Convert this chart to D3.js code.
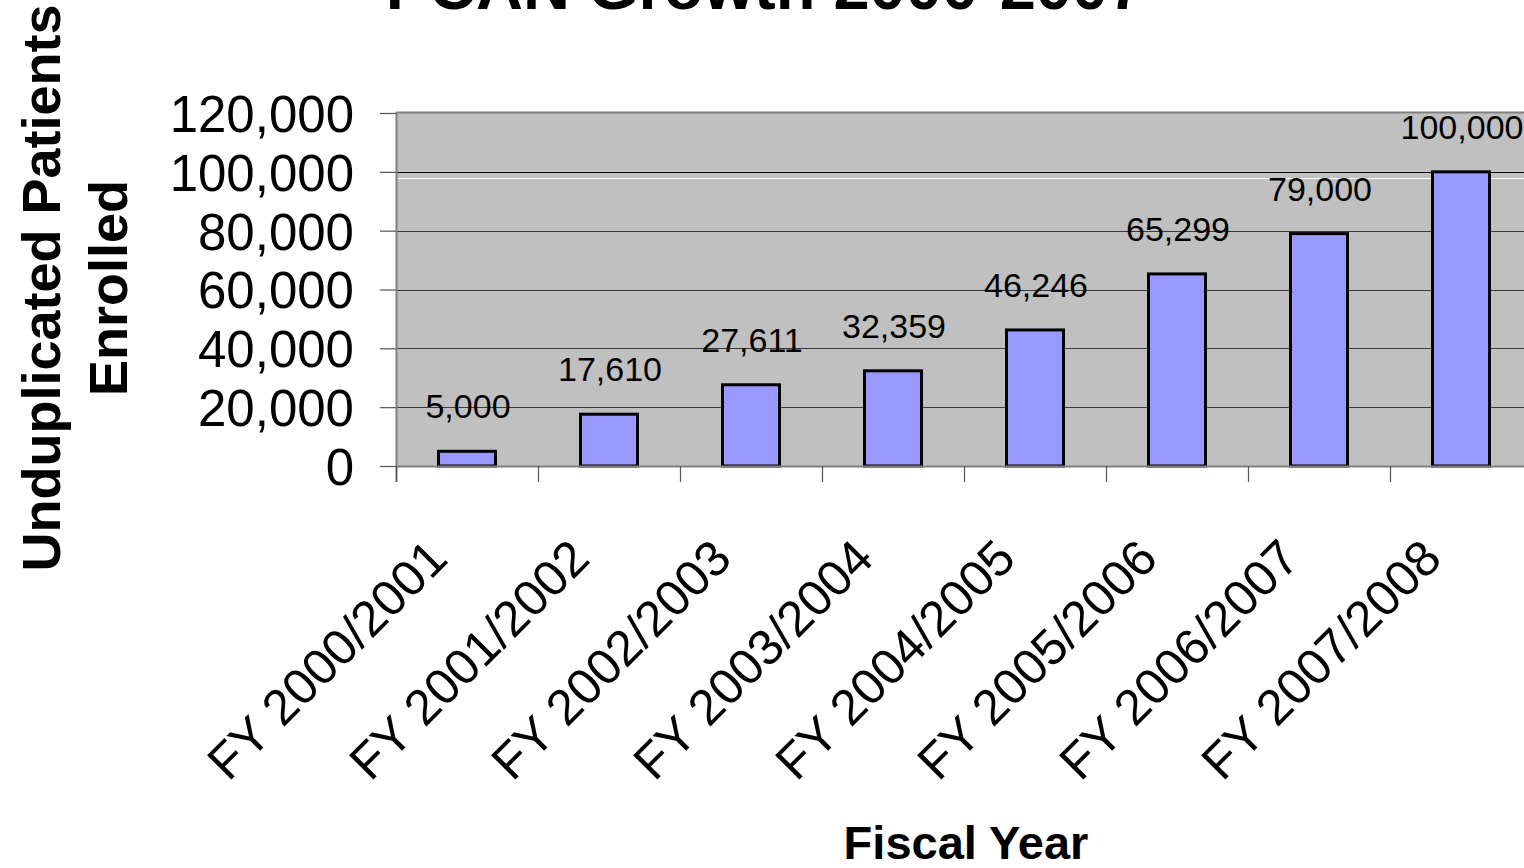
<!DOCTYPE html>
<html>
<head>
<meta charset="utf-8">
<script src="https://cdn.jsdelivr.net/npm/d3@7/dist/d3.min.js"></script>
<style>
  html, body { margin: 0; padding: 0; background: #fff; overflow: hidden; }
  svg { display: block; }
  text { font-family: "Liberation Sans", Arial, sans-serif; }
</style>
</head>
<body>
<svg id="chart" width="1524" height="868"></svg>
<script>
const categories = ["FY 2000/2001", "FY 2001/2002", "FY 2002/2003", "FY 2003/2004",
                    "FY 2004/2005", "FY 2005/2006", "FY 2006/2007", "FY 2007/2008"];
const values = [5000, 17610, 27611, 32359, 46246, 65299, 79000, 100000];
const yTicks = [0, 20000, 40000, 60000, 80000, 100000, 120000];
const titleText = "PCAN Growth 2000-2007";
const yTitleLines = ["Unduplicated Patients", "Enrolled"];
const xTitleText = "Fiscal Year";

(function () {
const svg = d3.select("#chart");
const pLeft = 396, band = 142, pTop = 113, pBottom = 466;
const pRight = pLeft + band * categories.length;

const x = d3.scaleBand().domain(categories).range([pLeft, pRight]).paddingInner(0).paddingOuter(0);
const y = d3.scaleLinear().domain([0, 120000]).range([pBottom, pTop]);
const fmt = d3.format(",");

// plot background
svg.append("rect").attr("x", pLeft).attr("y", y(120000) - 1)
  .attr("width", pRight - pLeft).attr("height", pBottom - y(120000) + 1)
  .attr("fill", "#C0C0C0");

// gridlines
svg.append("g").selectAll("line").data(yTicks.filter(d => d > 0 && d < 120000)).join("line")
  .attr("x1", pLeft).attr("x2", pRight)
  .attr("y1", d => Math.round(y(d)) + 0.5).attr("y2", d => Math.round(y(d)) + 0.5)
  .attr("stroke", d => d === 100000 ? "#000" : "#3a3a3a").attr("stroke-width", 1);

// faint white line just below the 100,000 gridline
svg.append("line").attr("x1", pLeft + 2).attr("x2", pRight)
  .attr("y1", Math.round(y(97800)) + 0.5).attr("y2", Math.round(y(97800)) + 0.5)
  .attr("stroke", "#fff").attr("stroke-width", 1);

// top border
svg.append("line").attr("x1", pLeft).attr("x2", pRight)
  .attr("y1", y(120000) - 0.5).attr("y2", y(120000) - 0.5)
  .attr("stroke", "#808080").attr("stroke-width", 2);

// bars
const barW = 57;
svg.append("g").selectAll("rect").data(values).join("rect")
  .attr("x", (d, i) => x(categories[i]) + band / 2 - barW / 2)
  .attr("y", d => y(d))
  .attr("width", barW)
  .attr("height", d => pBottom - y(d))
  .attr("fill", "#9999FF")
  .attr("stroke", "#000")
  .attr("stroke-width", 3);

// data labels
svg.append("g").selectAll("text").data(values).join("text")
  .attr("x", (d, i) => x(categories[i]) + band / 2 + 1)
  .attr("y", d => y(d) - 33)
  .attr("text-anchor", "middle")
  .attr("font-size", 34)
  .attr("fill", "#000")
  .text(d => fmt(d));

// y axis
const yAxis = d3.axisLeft(y).tickValues(yTicks).tickFormat(fmt).tickSize(16).tickPadding(26);
const gy = svg.append("g").attr("transform", `translate(${pLeft},0)`).call(yAxis);
gy.select(".domain").attr("stroke", "#808080").attr("stroke-width", 2)
  .attr("d", `M0.5,${y(120000) - 1}V${pBottom + 16}`);
gy.selectAll(".tick line").attr("stroke", "#555").attr("stroke-width", 1.2);
gy.selectAll(".tick text").attr("font-size", 51).attr("fill", "#000")
  .attr("font-family", "Liberation Sans, Arial, sans-serif").attr("dy", "0.36em");

// x axis
const xAxis = d3.axisBottom(x).tickValues([]).tickSizeOuter(0);
const gx = svg.append("g").attr("transform", `translate(0,${pBottom})`).call(xAxis);
gx.select(".domain").attr("stroke", "#808080").attr("stroke-width", 2)
  .attr("d", `M${pLeft},0.5H${pRight}`);
gx.selectAll("line.xt").data(categories).join("line").attr("class", "xt")
  .attr("x1", d => Math.round(x(d)) + 0.5).attr("x2", d => Math.round(x(d)) + 0.5)
  .attr("y1", 0).attr("y2", 16)
  .attr("stroke", "#555").attr("stroke-width", 1.2);

// x tick labels (rotated)
svg.append("g").selectAll("text").data(categories).join("text")
  .attr("transform", d => `translate(${x(d) + band / 2 - 17},${pBottom + 95}) rotate(-45)`)
  .attr("text-anchor", "end")
  .attr("font-size", 50)
  .attr("fill", "#000")
  .text(d => d);

// title (cut off at the top edge, as in the reference)
svg.append("text").attr("x", 765).attr("y", 9)
  .attr("text-anchor", "middle").attr("font-size", 65).attr("font-weight", "bold")
  .text(titleText);

// y title
const yt = svg.append("text").attr("transform", "translate(60,288) rotate(-90)")
  .attr("text-anchor", "middle").attr("font-size", 54).attr("font-weight", "bold");
yt.append("tspan").attr("x", 0).attr("y", 0).text(yTitleLines[0]);
yt.append("tspan").attr("x", 0).attr("y", 67).text(yTitleLines[1]);

// x title
svg.append("text").attr("x", 966).attr("y", 859)
  .attr("text-anchor", "middle").attr("font-size", 47).attr("font-weight", "bold")
  .text(xTitleText);
})();
</script>
</body>
</html>
